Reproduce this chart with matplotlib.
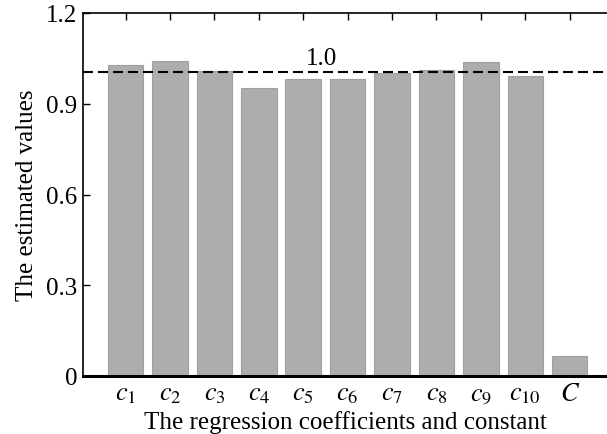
import numpy as np
import matplotlib.pyplot as plt

labels = ['$c_{1}$', '$c_{2}$', '$c_{3}$', '$c_{4}$', '$c_{5}$', '$c_{6}$',
          '$c_{7}$', '$c_{8}$', '$c_{9}$', '$c_{10}$', '$C$']
values = [1.028, 1.041, 1.008, 0.951, 0.981, 0.981, 1.002, 1.011, 1.038, 0.991, 0.065]
ref_value = 1.005
yticks = [0, 0.3, 0.6, 0.9, 1.2]
ytick_labels = ['0', '0.3', '0.6', '0.9', '1.2']

plt.rcParams['font.family'] = ['Liberation Serif', 'DejaVu Serif']
plt.rcParams['mathtext.fontset'] = 'stix'

fig = plt.figure(figsize=(6.07, 4.35), dpi=100)
ax = fig.add_axes([83 / 607, 1 - 377 / 435, 1 - 83 / 607, 363 / 435])

x = np.arange(len(values))
ax.bar(x, values, width=0.8, color='#adadad', edgecolor='#a0a0a0', linewidth=0.8, zorder=2)
ax.axhline(ref_value, color='black', linestyle=(0, (4.8, 2.4)), linewidth=1.5, zorder=3)
ax.text(4.42, 1.03, '1.0', fontsize=18, ha='center', va='baseline')

ax.set_xlim(-0.96, 10.84)
ax.set_ylim(0, 1.2)
ax.set_yticks(yticks)
ax.set_yticklabels(ytick_labels, fontsize=18)
ax.set_xticks(x)
ax.set_xticklabels(labels, fontsize=19)

ax.spines['right'].set_visible(False)
ax.spines['bottom'].set_linewidth(2.2)
ax.spines['left'].set_linewidth(1.2)
ax.spines['top'].set_linewidth(1.2)
ax.tick_params(axis='y', direction='in', length=5, width=1, pad=4)
ax.tick_params(axis='x', direction='in', length=5, width=1, top=True, bottom=False, pad=5)

ax.set_xlabel('The regression coefficients and constant', fontsize=18, labelpad=4)
ax.set_ylabel('The estimated values', fontsize=18, labelpad=6)

fig.savefig('out.png', dpi=100)
